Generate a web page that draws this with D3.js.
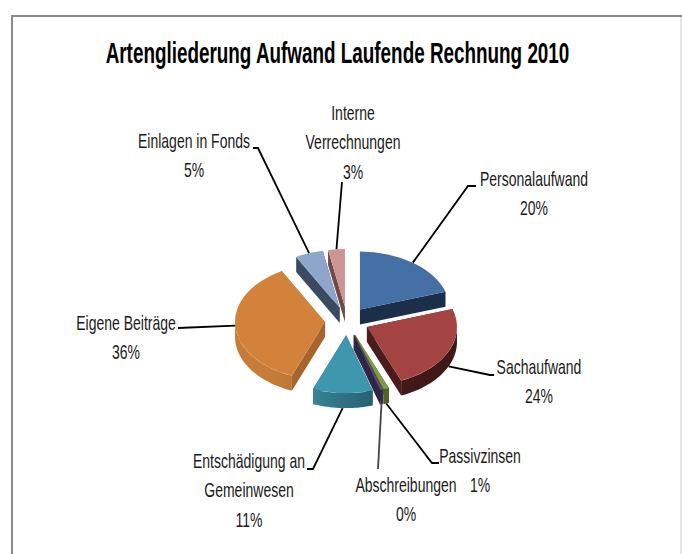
<html>
<head>
<script src="https://d3js.org/d3.v7.min.js"></script>
<style>
  body { margin: 0; background: white; }
  text { font-family: "Liberation Sans", sans-serif; fill: #1a1a1a; }
</style>
</head>
<body>
<svg id="chart" width="682" height="554"></svg>
<script>
const title = "Artengliederung Aufwand Laufende Rechnung 2010";
const categories = ["Personalaufwand", "Sachaufwand", "Passivzinsen", "Abschreibungen",
    "Entschädigung an Gemeinwesen", "Eigene Beiträge", "Einlagen in Fonds", "Interne Verrechnungen"];
const values = [20, 23.8, 1, 0.45, 10.75, 36, 5, 3];
const topColors = ["#4470a5", "#a34442", "#7f9c42", "#5f4b85", "#3f97ae", "#d3823b", "#8ea6cc", "#cc9492"];
const faceColors = ["#1b2f4b", "#4a1c1b", "#4d5f28", "#2f2647", "#24606f", "#a5652c", "#3a4a60", "#6e4a49"];
const wallFrom = ["#1b2f4b", "#5a2423", "#5a6e30", "#3a2f58", "#3f8fa5", "#c67c38", "#3a4a60", "#6e4a49"];
const wallTo = ["#1b2f4b", "#3f1817", "#4d5f28", "#2f2647", "#1f5060", "#a0622a", "#3a4a60", "#6e4a49"];

const svg = d3.select("#chart");
const width = 682, height = 554;

// frame
svg.append("line").attr("x1", 11).attr("x2", width).attr("y1", 16).attr("y2", 16)
    .attr("stroke", "#8a8a8a").attr("stroke-width", 2);
svg.append("line").attr("x1", 12).attr("x2", 12).attr("y1", 15).attr("y2", height)
    .attr("stroke", "#8a8a8a").attr("stroke-width", 2);
svg.append("line").attr("x1", 681).attr("x2", 681).attr("y1", 17).attr("y2", height)
    .attr("stroke", "#dcdcdc").attr("stroke-width", 1.5);

// no condensed font is installed, so the text is squeezed horizontally
svg.append("text").attr("transform", "translate(337.5,63) scale(0.64,1)").attr("text-anchor", "middle")
    .attr("font-size", 29.5).attr("font-weight", "bold").style("fill", "#000").text(title);

// pie geometry
const cx = 347, cy = 321, rx = 90, squash = 0.644, ry = rx * squash, depth = 15, explode = 22;

const pie = d3.pie().sort(null).value(d => d)
    .startAngle(0).endAngle(2 * Math.PI);
const arcs = pie(values).map((d, i) => {
    const mid = (d.startAngle + d.endAngle) / 2;
    return {
        ...d, i, mid,
        ox: cx + explode * Math.sin(mid),
        oy: cy - explode * squash * Math.cos(mid)
    };
});

const pt = (d, a, dz) => [d.ox + rx * Math.sin(a), d.oy - ry * Math.cos(a) + (dz || 0)];
const line = d3.line();
const topArc = d3.arc().innerRadius(0).outerRadius(rx);

const defs = svg.append("defs");
arcs.forEach(d => {
    const g = defs.append("linearGradient").attr("id", "wall" + d.i)
        .attr("gradientUnits", "userSpaceOnUse")
        .attr("x1", d.ox - rx * 0.6).attr("x2", d.ox + rx * 0.6).attr("y1", 0).attr("y2", 0);
    g.append("stop").attr("offset", 0).attr("stop-color", wallFrom[d.i]);
    g.append("stop").attr("offset", 1).attr("stop-color", wallTo[d.i]);
});

const pieG = svg.append("g");
// back slices first
const slices = pieG.selectAll("g.slice").data(arcs.slice().sort((a, b) => a.oy - b.oy))
    .join("g").attr("class", "slice");

// cut faces
slices.each(function (d) {
    const g = d3.select(this);
    [d.startAngle, d.endAngle].forEach(a => {
        g.append("path")
            .attr("d", line([[d.ox, d.oy], pt(d, a), pt(d, a, depth), [d.ox, d.oy + depth]]) + "Z")
            .attr("fill", faceColors[d.i]);
    });
    // outer wall, only the part on the near half
    const a0 = Math.max(d.startAngle, Math.PI / 2), a1 = Math.min(d.endAngle, 3 * Math.PI / 2);
    if (a1 > a0) {
        const steps = d3.range(0, 41).map(k => a0 + (a1 - a0) * k / 40);
        const pts = steps.map(a => pt(d, a)).concat(steps.slice().reverse().map(a => pt(d, a, depth)));
        g.append("path").attr("d", line(pts) + "Z").attr("fill", `url(#wall${d.i})`);
    }
    g.append("path")
        .attr("transform", `translate(${d.ox},${d.oy}) scale(1,${squash})`)
        .attr("d", topArc(d))
        .attr("fill", topColors[d.i]);
});

// labels
const pct = d3.format(".0f");
const labelLines = [
    ["Personalaufwand"], ["Sachaufwand"], ["Passivzinsen"], ["Abschreibungen"],
    ["Entschädigung an", "Gemeinwesen"], ["Eigene Beiträge"], ["Einlagen in Fonds"], ["Interne", "Verrechnungen"]
];
const labelX = [534, 539, 480, 406, 249, 126, 194, 353];
const labelY = [179, 367, 456, 485, 461, 323, 141, 113];
const elbows = [
    [[468, 186], [476, 186]], [[490, 375], [494, 375]], [[432, 463], [439, 463]], [[378, 469]],
    [[313, 469], [307, 469]], [[178, 328]], [[258, 148], [253, 148]], [[342, 182]]
];
const lineH = 29.5;
const labelSquash = 0.7;

arcs.forEach(d => {
    const near = Math.cos(d.mid) < -0.2;
    const start = pt(d, d.mid, near ? depth : 0);
    svg.append("path").attr("d", line([start, ...elbows[d.i]]))
        .attr("fill", "none").attr("stroke", d.i === 3 ? "#444" : "#000").attr("stroke-width", 1.8);

    const t = svg.append("text").attr("text-anchor", "middle").attr("font-size", 20)
        .attr("transform", `translate(${labelX[d.i]},${labelY[d.i] + 7}) scale(${labelSquash},1)`);
    labelLines[d.i].concat(pct(values[d.i]) + "%").forEach((s, k) => {
        t.append("tspan").attr("x", 0).attr("y", k * lineH).text(s);
    });
});
</script>
</body>
</html>
